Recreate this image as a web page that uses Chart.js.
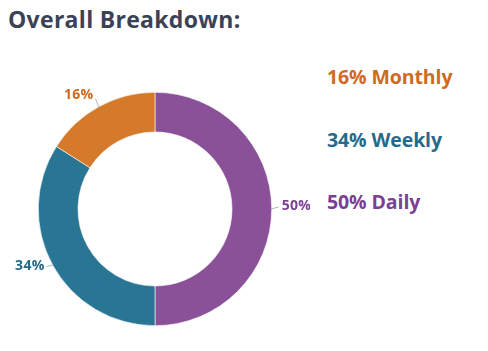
<!DOCTYPE html>
<html>
<head>
<meta charset="utf-8">
<script src="https://cdn.jsdelivr.net/npm/chart.js@4"></script>
<style>
  body { margin: 0; background: #fff; width: 488px; height: 351px; overflow: hidden; font-family: "Open Sans", sans-serif; }
  h1 { position: absolute; left: 8px; top: 3px; margin: 0; font-size: 23px; font-weight: 700; color: #3b4256; letter-spacing: 0.3px; }
  #wrap { position: absolute; left: 0; top: 80px; width: 310px; height: 258px; }
  #legend { position: absolute; left: 327px; top: 63px; }
  #legend div { font-size: 19.5px; font-weight: 700; height: 62.5px; line-height: 28px; letter-spacing: -0.1px; }
</style>
</head>
<body>
<h1>Overall Breakdown:</h1>
<div id="wrap"><canvas id="pie"></canvas></div>
<div id="legend"></div>
<script>
const categories = ['Daily', 'Weekly', 'Monthly'];
const shares = [50, 34, 16];
const sliceColors = ['#8a5199', '#287594', '#d5792b'];
const textColors = ['#7b3f93', '#246b8b', '#d06a1f'];
const legendOrder = [2, 1, 0];

// legend on the right, monthly first
const legend = document.getElementById('legend');
legendOrder.forEach(i => {
  const d = document.createElement('div');
  d.textContent = shares[i] + '% ' + categories[i];
  d.style.color = textColors[i];
  legend.appendChild(d);
});

// percentage labels outside the ring with short leader lines
const outsideLabels = {
  id: 'outsideLabels',
  afterDatasetsDraw(chart) {
    const ctx = chart.ctx;
    const meta = chart.getDatasetMeta(0);
    ctx.save();
    ctx.font = '700 14px "Open Sans", sans-serif';
    ctx.letterSpacing = '0.3px';
    ctx.textBaseline = 'middle';
    meta.data.forEach((arc, i) => {
      const mid = (arc.startAngle + arc.endAngle) / 2;
      const cos = Math.cos(mid), sin = Math.sin(mid);
      const r = arc.outerRadius;
      const x1 = arc.x + cos * (r - 1), y1 = arc.y + sin * (r - 1);
      const x2 = arc.x + cos * (r + 7), y2 = arc.y + sin * (r + 7) - 2;
      ctx.strokeStyle = '#9aa5b0';
      ctx.lineWidth = 0.8;
      ctx.beginPath();
      ctx.moveTo(x1, y1);
      ctx.lineTo(x2, y2);
      ctx.stroke();
      ctx.fillStyle = textColors[i];
      const right = cos >= 0;
      ctx.textAlign = right ? 'left' : 'right';
      ctx.fillText(shares[i] + '%', x2 + (right ? 3 : -2), y2 - (sin < -0.5 ? 4 : 1));
    });
    ctx.restore();
  }
};

new Chart(document.getElementById('pie'), {
  type: 'doughnut',
  data: {
    labels: categories,
    datasets: [{
      data: shares,
      backgroundColor: sliceColors,
      borderColor: '#ffffff',
      borderWidth: 0.6
    }]
  },
  options: {
    responsive: true,
    maintainAspectRatio: false,
    animation: false,
    cutout: '66%',
    layout: { padding: 12 },
    plugins: { legend: { display: false }, tooltip: { enabled: false } }
  },
  plugins: [outsideLabels]
});
</script>
</body>
</html>
